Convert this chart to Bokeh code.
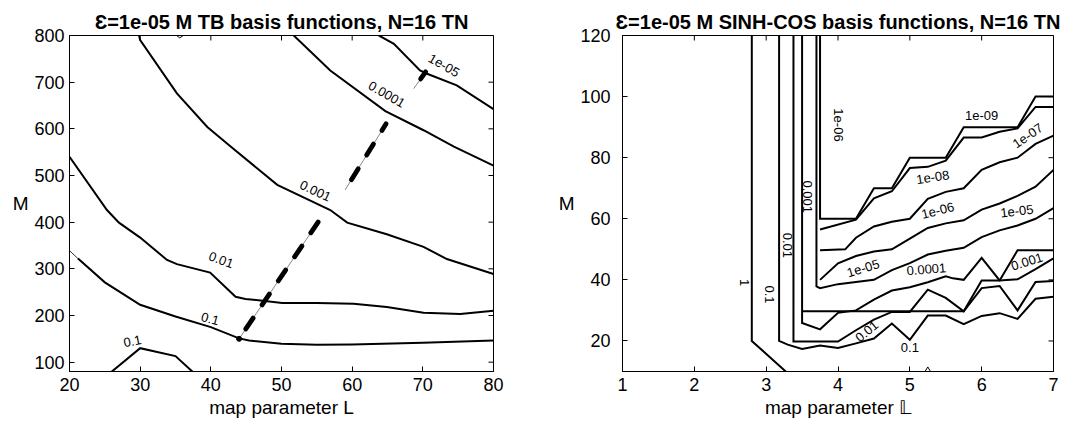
import math
from bokeh.plotting import figure
from bokeh.layouts import row
from bokeh.models import FixedTicker, ColumnDataSource, LabelSet, Range1d
from bokeh.core.properties import value
from bokeh.embed import file_html
from bokeh.resources import INLINE

FONT = "Liberation Sans"

# ---------------- left panel: TB basis functions ----------------
tb_title = "Ɛ=1e-05 M TB basis functions, N=16 TN"
tb_xlabel = "map parameter L"
tb_ylabel = "M"
tb_xticks = [20, 30, 40, 50, 60, 70, 80]
tb_yticks = [100, 200, 300, 400, 500, 600, 700, 800]

tb_c01_low_L = [25.2, 30, 35, 38.1]
tb_c01_low_M = [70, 130, 113, 70]
tb_c01_thin_L = [20, 21.2]
tb_c01_thin_M = [339, 322]
tb_c01_L = [21.2, 25, 30, 35, 40, 44, 45.4, 50, 55, 60, 70, 80]
tb_c01_M = [322, 271, 223, 198, 175, 151, 146.5, 139.5, 137.5, 138, 141.5, 146.5]
tb_c001_L = [20, 25.3, 27, 30, 33.8, 35.2, 39.9, 43.5, 44.9, 50.1, 55, 60.2, 64.9, 70.1, 75.3, 80]
tb_c001_M = [540, 426, 399, 367, 319, 310, 292, 240, 235.5, 227, 227, 225, 218, 206, 203, 210]
tb_c0001_L = [29.6, 30.0, 35.2, 39.5, 42.8, 49.4, 56.9, 59.3, 64.9, 70.1, 73.4, 80]
tb_c0001_M = [815, 790, 676, 604, 562, 480, 426, 399, 374, 347, 321, 289]
tb_c00001_L = [50.7, 56.9, 64.7, 70.1, 74.4, 80]
tb_c00001_M = [815, 725, 638, 597, 562, 521]
tb_c1e5_L = [62.0, 65.9, 69.6, 70.6, 74.8, 80]
tb_c1e5_M = [815, 782, 725, 718, 693, 642]
tb_frag_L = [34.9, 35.6, 36.4]
tb_frag_M = [803, 795, 803]

# optimal-path (dashed) pieces
tb_path1_L = [44.0, 55.3]
tb_path1_M = [150, 403]
tb_path2_L = [59.0, 64.8]
tb_path2_M = [469, 611]
tb_path3_L = [68.7, 70.4]
tb_path3_M = [686, 722]
tb_dot_L = [44.0]
tb_dot_M = [150]

tb_lab_text = ["1e-05", "0.0001", "0.001", "0.01", "0.1", "0.1"]
tb_lab_L = [73.0, 64.9, 54.8, 41.45, 39.9, 28.9]
tb_lab_M = [736, 674, 467, 319, 193, 145]
tb_lab_ang = [-0.52, -0.52, -0.44, -0.35, -0.26, 0.2]

# ---------------- right panel: SINH-COS basis functions ----------------
sc_title = "Ɛ=1e-05 M SINH-COS basis functions, N=16 TN"
sc_xlabel = "map parameter 𝕃"
sc_ylabel = "M"
sc_xticks = [1, 2, 3, 4, 5, 6, 7]
sc_yticks = [20, 40, 60, 80, 100, 120]

sc_A_L = [2.8, 2.8, 3.32]
sc_A_M = [125, 20, 9.0]
sc_B_L = [3.18, 3.18, 3.3, 3.5, 3.75, 4.0, 4.25, 4.5, 4.75, 5.0, 5.25, 5.5, 5.75, 6.0, 6.25, 6.5, 6.75, 7.0]
sc_B_M = [125, 20, 18.8, 17.4, 18.5, 17.7, 19.2, 20.8, 25.7, 20.4, 28.3, 28.3, 25.5, 28.2, 29.1, 27.2, 33.8, 34.5]
sc_C_L = [3.38, 3.38, 4.0, 4.25, 4.5, 4.75, 5.0, 5.25, 5.5, 5.75, 6.0, 6.25, 6.5, 6.75, 7.0]
sc_C_M = [125, 19.8, 19.8, 23.5, 27, 29.5, 29.5, 36.8, 34.1, 29.7, 37.3, 38, 30, 39.3, 39.6]
sc_D_L = [3.5, 3.5, 3.75, 4.0, 4.25, 4.5, 4.75, 5.0, 5.25, 5.5, 5.6, 5.75, 6.0, 6.25, 6.5, 6.75, 7.0]
sc_D_M = [125, 25.9, 23.8, 29.2, 30, 33.5, 36.5, 37.6, 39.2, 41.2, 40.5, 40, 47.2, 39.8, 40.2, 43.5, 47]
sc_H_L = [3.5, 5.75, 6.0, 6.25, 6.5, 7.0]
sc_H_M = [29.7, 29.7, 39.8, 39.8, 49.7, 49.7]
sc_E_L = [3.7, 3.7, 3.75, 4.0, 4.25, 4.5, 4.75, 5.0, 5.25, 5.5, 5.75, 6.0, 6.25, 6.5, 6.75, 7.0]
sc_E_M = [125, 37.9, 37.3, 38.6, 39.3, 40, 43.2, 45.5, 48.3, 49.5, 50.5, 54, 56.2, 57.8, 60, 63.5]
sc_F_L = [3.75, 3.75, 4.25, 4.5, 4.75, 5.0, 5.5, 5.75, 6.5, 6.75, 7.0]
sc_F_M = [125, 60, 60, 70, 70, 80, 80, 90, 90, 100, 100]
sc_S2_L = [3.75, 4.25, 4.5, 4.75, 5.0, 5.25, 5.5, 5.75, 6.0, 6.25, 6.5, 6.75, 7.0]
sc_S2_M = [56.5, 59.7, 66.7, 69, 76.6, 77, 79, 86.6, 86.6, 88.5, 89.6, 96.6, 96.6]
sc_S3_L = [3.75, 4.1, 4.25, 4.5, 4.75, 5.0, 5.25, 5.5, 5.75, 6.0, 6.25, 6.5, 6.75, 7.0]
sc_S3_M = [49.7, 50, 53.8, 57.5, 59, 60, 66.5, 68.8, 70, 76, 78.5, 80, 84.5, 87.2]
sc_S4_L = [3.75, 4.0, 4.25, 4.5, 4.75, 5.0, 5.25, 5.5, 5.75, 6.0, 6.25, 6.5, 6.75, 7.0]
sc_S4_M = [40, 45.4, 47.8, 49.3, 50, 53.5, 57, 58.5, 59.5, 63, 65, 67.5, 70.5, 76]
sc_frag_L = [5.2, 5.25, 5.3]
sc_frag_M = [9.5, 11.5, 9.5]

sc_lab_text = ["1", "0.1", "0.01", "0.001", "1e-06", "1e-09", "1e-07", "1e-08", "1e-06",
               "1e-05", "1e-05", "0.0001", "0.001", "0.01", "0.1"]
sc_lab_L = [2.70, 3.04, 3.29, 3.58, 4.01, 6.0, 6.64, 5.32, 5.39, 6.49, 4.35, 5.23, 6.63, 4.4, 5.0]
sc_lab_M = [39.1, 35.2, 51.3, 67.2, 90.7, 93.9, 87.2, 73.6, 62.7, 62.5, 43.8, 43.5, 46.0, 23.2, 18.0]
sc_lab_ang = [-math.pi / 2] * 5 + [0.0, 0.6, 0.15, 0.25, 0.12, 0.3, 0.08, 0.3, 0.7, 0.0]


def make_fig(xr, yr, xticks, yticks, title, xlabel, ylabel, width, mleft, mright, ystandoff):
    p = figure(x_range=Range1d(*xr), y_range=Range1d(*yr), width=width, height=420,
               output_backend="svg", toolbar_location=None, min_border_left=mleft,
               min_border_right=mright, min_border_top=35, min_border_bottom=0,
               background_fill_color="white", border_fill_color="white")
    p.grid.visible = False
    p.outline_line_color = "black"
    p.outline_line_width = 1
    p.title.text = title
    p.title.align = "center"
    p.title.text_font = FONT
    p.title.text_font_size = "20px"
    p.title.text_font_style = "bold"
    p.title.text_color = "black"
    p.title.standoff = 5
    for ax, ticks, so in ((p.xaxis[0], xticks, 6), (p.yaxis[0], yticks, ystandoff)):
        ax.ticker = FixedTicker(ticks=ticks)
        ax.major_tick_in = 5
        ax.major_tick_out = 0
        ax.minor_tick_line_color = None
        ax.major_label_text_font = FONT
        ax.major_label_text_font_size = "18px"
        ax.major_label_text_color = "black"
        ax.major_label_standoff = so
        ax.axis_line_color = "black"
        ax.major_tick_line_color = "black"
        ax.axis_label_text_font = FONT
        ax.axis_label_text_font_size = "19px"
        ax.axis_label_text_font_style = "normal"
        ax.axis_label_text_color = "black"
    p.xaxis.axis_label = xlabel
    p.xaxis.axis_label_standoff = 3
    p.yaxis.axis_label = ylabel
    p.yaxis.axis_label_standoff = 3
    p.yaxis.axis_label_orientation = "horizontal"
    # inward ticks on the top and right edges of the box (MATLAB "box on")
    p.ray(x=xticks, y=[yr[1]] * len(xticks), length=5, angle=-math.pi / 2,
          length_units="screen", line_color="black", line_width=1)
    p.ray(x=[xr[1]] * len(yticks), y=yticks, length=5, angle=math.pi,
          length_units="screen", line_color="black", line_width=1)
    return p


def contour(p, xs, ys, w=2.0):
    p.line(xs, ys, line_color="black", line_width=w, line_join="miter")


def labels(p, txt, xs, ys, ang, size="13px"):
    src = ColumnDataSource(dict(x=xs, y=ys, text=txt, angle=ang))
    p.add_layout(LabelSet(x="x", y="y", text="text", angle="angle", source=src,
                          text_font=value(FONT), text_font_size=value(size),
                          text_color="black", text_align="center",
                          text_baseline="middle"))


p1 = make_fig((20, 80), (80, 800), tb_xticks, tb_yticks, tb_title, tb_xlabel, tb_ylabel,
              540, 69, 47, 5)
contour(p1, tb_c01_low_L, tb_c01_low_M)
contour(p1, tb_c01_thin_L, tb_c01_thin_M, 0.8)
contour(p1, tb_c01_L, tb_c01_M)
contour(p1, tb_c001_L, tb_c001_M)
contour(p1, tb_c0001_L, tb_c0001_M)
contour(p1, tb_c00001_L, tb_c00001_M)
contour(p1, tb_c1e5_L, tb_c1e5_M)
contour(p1, tb_frag_L, tb_frag_M, 1)
for xs, ys in ((tb_path1_L, tb_path1_M), (tb_path2_L, tb_path2_M), (tb_path3_L, tb_path3_M)):
    p1.line(xs, ys, line_color="#555555", line_width=0.7)
    p1.line(xs, ys, line_color="black", line_width=4.8, line_dash="13 16",
            line_dash_offset=17, line_cap="round")
p1.scatter(tb_dot_L, tb_dot_M, size=5, color="black")
labels(p1, tb_lab_text, tb_lab_L, tb_lab_M, tb_lab_ang)

p2 = make_fig((1, 7), (10, 120), sc_xticks, sc_yticks, sc_title, sc_xlabel, sc_ylabel,
              528, 82, 15, 12)
for xs, ys in ((sc_A_L, sc_A_M), (sc_B_L, sc_B_M), (sc_C_L, sc_C_M), (sc_D_L, sc_D_M),
               (sc_H_L, sc_H_M), (sc_E_L, sc_E_M), (sc_F_L, sc_F_M), (sc_S2_L, sc_S2_M),
               (sc_S3_L, sc_S3_M), (sc_S4_L, sc_S4_M)):
    contour(p2, xs, ys)
contour(p2, sc_frag_L, sc_frag_M, 1)
labels(p2, sc_lab_text, sc_lab_L, sc_lab_M, sc_lab_ang)

layout = row(p1, p2)
open("out.html", "w").write(file_html(layout, INLINE))
